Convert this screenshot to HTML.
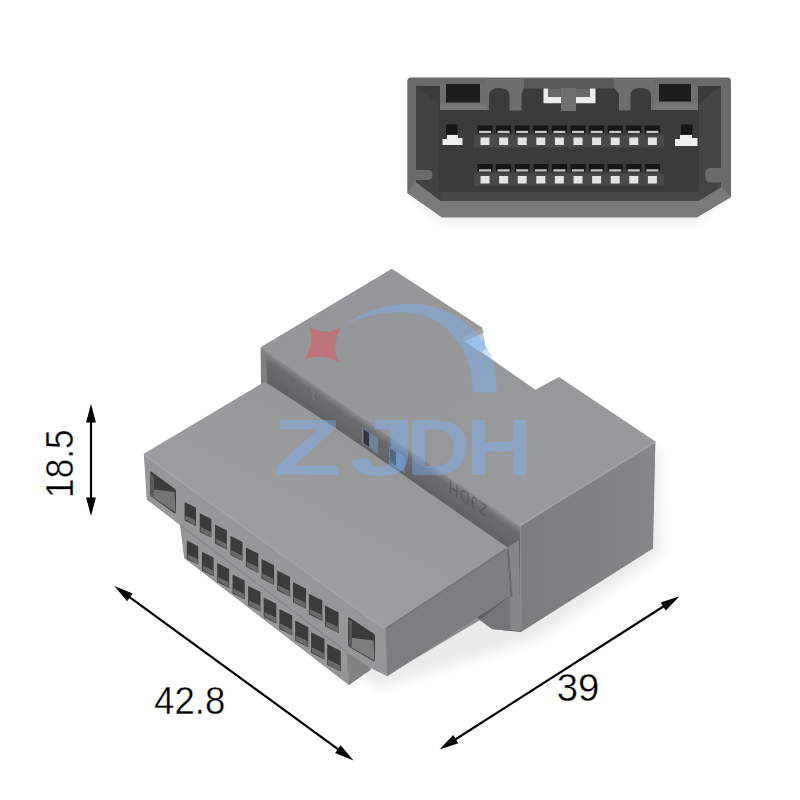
<!DOCTYPE html>
<html lang="en"><head><meta charset="utf-8"><title>ZJDH connector 42.8 x 39 x 18.5</title>
<style>
html,body{margin:0;padding:0;background:#fff;}
body{width:800px;height:800px;overflow:hidden;font-family:"Liberation Sans",sans-serif;}
svg{display:block}
text{font-family:"Liberation Sans",sans-serif;}
</style></head><body>
<svg width="800" height="800" viewBox="0 0 800 800">
<defs>
<filter id="b0" x="-5%" y="-5%" width="110%" height="110%"><feGaussianBlur stdDeviation="0.45"/></filter>
<filter id="b1" x="-20%" y="-20%" width="140%" height="140%"><feGaussianBlur stdDeviation="0.6"/></filter>
<filter id="b2" x="-50%" y="-50%" width="200%" height="200%"><feGaussianBlur stdDeviation="6"/></filter>
<filter id="b3" x="-20%" y="-20%" width="140%" height="140%"><feGaussianBlur stdDeviation="1.2"/></filter>
<linearGradient id="hole" x1="0" y1="0" x2="1" y2="1"><stop offset="0" stop-color="#2e2e2d"/><stop offset="0.55" stop-color="#4a4a49"/><stop offset="1" stop-color="#7c7c7c"/></linearGradient>
<linearGradient id="rface" x1="0" y1="0" x2="1" y2="0"><stop offset="0" stop-color="#7b7c7d"/><stop offset="1" stop-color="#858687"/></linearGradient>
<linearGradient id="platef" x1="0.85" y1="0.15" x2="0.3" y2="0.85"><stop offset="0" stop-color="#949597"/><stop offset="1" stop-color="#9e9fa1"/></linearGradient>
<linearGradient id="band" gradientUnits="userSpaceOnUse" x1="400" y1="442.5" x2="383" y2="467.2"><stop offset="0" stop-color="#999a9c"/><stop offset="0.07" stop-color="#858688"/><stop offset="0.27" stop-color="#6a6b6d"/><stop offset="1" stop-color="#5f6062"/></linearGradient>
<linearGradient id="topf" x1="0" y1="0" x2="1" y2="1"><stop offset="0" stop-color="#959698"/><stop offset="1" stop-color="#999a9c"/></linearGradient>
</defs>
<rect width="800" height="800" fill="#ffffff"/>

<g id="topview" filter="url(#b0)">
<path d="M410 190 L730 190 L698 222 L442 222 Z" fill="#ebebeb" filter="url(#b2)"/>
<path d="M411 77.5 H727 Q731 77.5 731 81.5 V197 L697 217.3 H442 L407.3 193 V81.5 Q407.3 77.5 411 77.5 Z" fill="#6b6b6b"/>
<path d="M441 201 H698 L721 187 L731 197 L697 217.3 H442 L407.3 193 L416 182 Z" fill="#7a7a7a"/>
<path d="M441 200.5 H698" stroke="#8c8c8c" stroke-width="1.5"/>
<path d="M416 86 H721 V187 L698 201 H441 L416 182 Z" fill="#3a3a3a"/>
<path d="M441 201 H698 L708 192 H430 Z" fill="#464646"/>
<path d="M416 86 L438 104 V178 L441 201 L416 182 Z" fill="#424242"/>
<path d="M721 86 L699 104 V180 L698 201 L721 187 Z" fill="#454545"/>
<rect x="523.5" y="79" width="90.5" height="9.5" fill="#5a5a5a"/>
<path d="M440 84 H486 V110 H440 Z" fill="#6e6e6e"/>
<rect x="440" y="103.5" width="46" height="6.5" fill="#767676"/>
<rect x="446" y="84" width="34" height="18.5" fill="#1b1b1b"/>
<path d="M654 84 H698 V110 H654 Z" fill="#6e6e6e"/>
<rect x="654" y="103" width="44" height="7" fill="#767676"/>
<rect x="659" y="84" width="32" height="17.5" fill="#1b1b1b"/>
<path d="M486 79 H524 V88 L521.5 94 V110.5 H509.5 V96 Q509.5 88 499 88 Q489 88 489 96 V110 H486 Z" fill="#6e6e6e"/>
<path d="M654 79 H614 V88 L619 94 V110.5 H630.5 V96 Q630.5 88 640 88 Q651 88 651 96 V110 H654 Z" fill="#6e6e6e"/>
<path d="M543.5 88.5 H548 V97 H561 V103.3 H543.5 Z" fill="#ececec"/>
<path d="M595.5 88.5 H590 V97 H576 V103.3 H595.5 Z" fill="#ececec"/>
<rect x="548" y="88.5" width="13" height="8.5" fill="#676767"/>
<rect x="576" y="88.5" width="14" height="8.5" fill="#676767"/>
<rect x="561" y="88" width="15" height="23" fill="#707070"/>
<rect x="474" y="135" width="190" height="12.5" fill="#4a4a4a"/>
<rect x="477.5" y="125.5" width="15" height="7.5" fill="#161616"/>
<rect x="479.0" y="130.8" width="12" height="2.2" fill="#c4c4c4"/>
<rect x="480.5" y="137.5" width="9" height="7.5" fill="#e4e4e4"/>
<rect x="496.1" y="125.5" width="15" height="7.5" fill="#161616"/>
<rect x="497.6" y="130.8" width="12" height="2.2" fill="#c4c4c4"/>
<rect x="499.1" y="137.5" width="9" height="7.5" fill="#e4e4e4"/>
<rect x="514.7" y="125.5" width="15" height="7.5" fill="#161616"/>
<rect x="516.2" y="130.8" width="12" height="2.2" fill="#c4c4c4"/>
<rect x="517.7" y="137.5" width="9" height="7.5" fill="#e4e4e4"/>
<rect x="533.3" y="125.5" width="15" height="7.5" fill="#161616"/>
<rect x="534.8" y="130.8" width="12" height="2.2" fill="#c4c4c4"/>
<rect x="536.3" y="137.5" width="9" height="7.5" fill="#e4e4e4"/>
<rect x="551.9" y="125.5" width="15" height="7.5" fill="#161616"/>
<rect x="553.4" y="130.8" width="12" height="2.2" fill="#c4c4c4"/>
<rect x="554.9" y="137.5" width="9" height="7.5" fill="#e4e4e4"/>
<rect x="570.5" y="125.5" width="15" height="7.5" fill="#161616"/>
<rect x="572.0" y="130.8" width="12" height="2.2" fill="#c4c4c4"/>
<rect x="573.5" y="137.5" width="9" height="7.5" fill="#e4e4e4"/>
<rect x="589.1" y="125.5" width="15" height="7.5" fill="#161616"/>
<rect x="590.6" y="130.8" width="12" height="2.2" fill="#c4c4c4"/>
<rect x="592.1" y="137.5" width="9" height="7.5" fill="#e4e4e4"/>
<rect x="607.7" y="125.5" width="15" height="7.5" fill="#161616"/>
<rect x="609.2" y="130.8" width="12" height="2.2" fill="#c4c4c4"/>
<rect x="610.7" y="137.5" width="9" height="7.5" fill="#e4e4e4"/>
<rect x="626.3" y="125.5" width="15" height="7.5" fill="#161616"/>
<rect x="627.8" y="130.8" width="12" height="2.2" fill="#c4c4c4"/>
<rect x="629.3" y="137.5" width="9" height="7.5" fill="#e4e4e4"/>
<rect x="644.9" y="125.5" width="15" height="7.5" fill="#161616"/>
<rect x="646.4" y="130.8" width="12" height="2.2" fill="#c4c4c4"/>
<rect x="647.9" y="137.5" width="9" height="7.5" fill="#e4e4e4"/>
<rect x="474" y="173.5" width="190" height="12.5" fill="#4a4a4a"/>
<rect x="477.5" y="164.0" width="15" height="7.5" fill="#161616"/>
<rect x="479.0" y="169.3" width="12" height="2.2" fill="#c4c4c4"/>
<rect x="480.5" y="176.0" width="9" height="7.5" fill="#e4e4e4"/>
<rect x="496.1" y="164.0" width="15" height="7.5" fill="#161616"/>
<rect x="497.6" y="169.3" width="12" height="2.2" fill="#c4c4c4"/>
<rect x="499.1" y="176.0" width="9" height="7.5" fill="#e4e4e4"/>
<rect x="514.7" y="164.0" width="15" height="7.5" fill="#161616"/>
<rect x="516.2" y="169.3" width="12" height="2.2" fill="#c4c4c4"/>
<rect x="517.7" y="176.0" width="9" height="7.5" fill="#e4e4e4"/>
<rect x="533.3" y="164.0" width="15" height="7.5" fill="#161616"/>
<rect x="534.8" y="169.3" width="12" height="2.2" fill="#c4c4c4"/>
<rect x="536.3" y="176.0" width="9" height="7.5" fill="#e4e4e4"/>
<rect x="551.9" y="164.0" width="15" height="7.5" fill="#161616"/>
<rect x="553.4" y="169.3" width="12" height="2.2" fill="#c4c4c4"/>
<rect x="554.9" y="176.0" width="9" height="7.5" fill="#e4e4e4"/>
<rect x="570.5" y="164.0" width="15" height="7.5" fill="#161616"/>
<rect x="572.0" y="169.3" width="12" height="2.2" fill="#c4c4c4"/>
<rect x="573.5" y="176.0" width="9" height="7.5" fill="#e4e4e4"/>
<rect x="589.1" y="164.0" width="15" height="7.5" fill="#161616"/>
<rect x="590.6" y="169.3" width="12" height="2.2" fill="#c4c4c4"/>
<rect x="592.1" y="176.0" width="9" height="7.5" fill="#e4e4e4"/>
<rect x="607.7" y="164.0" width="15" height="7.5" fill="#161616"/>
<rect x="609.2" y="169.3" width="12" height="2.2" fill="#c4c4c4"/>
<rect x="610.7" y="176.0" width="9" height="7.5" fill="#e4e4e4"/>
<rect x="626.3" y="164.0" width="15" height="7.5" fill="#161616"/>
<rect x="627.8" y="169.3" width="12" height="2.2" fill="#c4c4c4"/>
<rect x="629.3" y="176.0" width="9" height="7.5" fill="#e4e4e4"/>
<rect x="644.9" y="164.0" width="15" height="7.5" fill="#161616"/>
<rect x="646.4" y="169.3" width="12" height="2.2" fill="#c4c4c4"/>
<rect x="647.9" y="176.0" width="9" height="7.5" fill="#e4e4e4"/>
<rect x="446" y="124.5" width="11.5" height="10" fill="#151515"/>
<path d="M447 135 H458 V138 H462.5 V145 H442.5 V139 H447 Z" fill="#efefef"/>
<rect x="681" y="124.5" width="11.5" height="10" fill="#151515"/>
<path d="M680 135 H692 V138 H697.5 V146 H675 V139 H680 Z" fill="#efefef"/>
<path d="M415 170 H428 Q432.5 170 432.5 175 Q432.5 180 428 180 H415 Z" fill="#6a6a6a"/>
<path d="M722 168 H710 Q705 168 705 175 Q705 182.5 710 182.5 H722 Z" fill="#6a6a6a"/>
</g>
<g id="main" filter="url(#b0)">
<path d="M300 640 L380 688 L540 638 L662 554 L660 452 L600 420 Z" fill="#ebebeb" filter="url(#b2)"/>
<polygon points="261.0,348.0 391.8,269.5 482.0,328.5 481.0,352.0 535.4,390.5 559.0,378.0 655.0,442.0 652.5,548.0 521.0,631.5 492.0,628.5 480.0,620.0 387.0,675.5 370.5,667.5 370.0,670.0 348.8,684.5 184.5,558.0 180.5,525.0 147.0,499.5 144.3,454.3 261.0,385.0" fill="#8c8d8f" />
<polygon points="518.0,523.0 655.4,441.6 653.0,548.5 521.0,632.0 518.0,632.0" fill="url(#rface)" />
<polygon points="261.0,347.6 266.0,347.5 521.0,522.0 521.0,632.0 492.0,629.0 480.0,620.0 262.0,420.0" fill="url(#band)" />
<polygon points="261.0,347.0 391.8,268.8 482.0,327.6 483.0,332.0 462.0,340.0 481.0,352.0 535.4,389.8 559.0,377.0 655.4,441.6 520.0,525.0" fill="url(#topf)" />
<path d="M520 525.5 L655 442" stroke="#a3a4a6" stroke-width="1.6" fill="none" filter="url(#b1)"/>
<path d="M520.3 527 L521 630" stroke="#8e8f91" stroke-width="1.5" fill="none" filter="url(#b1)"/>
<polygon points="260.6,347.5 266.0,351.0 267.0,384.0 261.0,384.5" fill="#7e7f81" />
<polygon points="464.0,341.0 483.0,333.0 486.0,348.5 481.0,352.5" fill="#b3c6de" />
<polygon points="461.5,337.5 481.5,328.0 483.8,332.8 463.0,341.8" fill="#a2a3a5" />
<polygon points="362.0,427.0 378.0,438.0 378.0,454.0 362.0,443.0" fill="#6f819e" />
<polygon points="363.5,429.0 369.0,433.0 369.0,447.0 363.5,443.0" fill="#353638" />
<polygon points="389.0,446.0 405.0,457.0 405.0,473.0 389.0,462.0" fill="#6f819e" />
<polygon points="390.5,448.0 396.0,452.0 396.0,466.0 390.5,462.0" fill="#353638" />
<text transform="matrix(-0.824 -0.566 0 -1 487 506)" font-size="17" fill="#505153" fill-opacity="0.7" letter-spacing="1">ZJDH</text>
<text transform="matrix(-0.824 -0.566 0 -1 316 393.5)" font-size="12" fill="#8a8b8d" fill-opacity="0.7">1</text>
<polygon points="143.8,453.8 261.0,384.0 265.0,382.0 280.0,391.5 340.0,431.0 509.5,548.8 385.5,628.8" fill="url(#platef)" />
<polygon points="385.5,628.8 506.0,548.5 510.0,596.0 387.0,676.5" fill="#7d7e7f" />
<polygon points="506.0,548.5 519.0,540.0 520.5,632.0 510.0,630.0 510.0,596.0" fill="#858688" />
<path d="M508 549 L511.5 597" stroke="#68696b" stroke-width="2" fill="none"/>
<polygon points="480.0,620.0 510.0,596.0 510.0,631.0 492.0,629.0" fill="#757678" />
<polygon points="143.8,453.8 385.5,628.8 387.0,676.0 370.5,668.0 348.8,685.0 184.2,558.2 180.0,525.0 146.8,499.5" fill="#97979a" />
<polygon points="346.5,652.0 370.5,668.0 370.5,670.0 348.8,685.0" fill="#828283" />
<path d="M180 525 L347 652" stroke="#87878a" stroke-width="1.2" fill="none"/>
<path d="M144.5 455 L385.5 629.6" stroke="#a5a5a7" stroke-width="1.6" fill="none"/>
<path d="M385.5 628.8 L506 549" stroke="#727374" stroke-width="1.4" fill="none"/>
<path d="M151.7 471.8 L174.5 488.5 Q176 489.8 176 492 L176 511.5 Q176 514.5 174 513 L151.2 496.6 Q150.2 495.8 150.2 494.5 L150.2 472.5 Q150.2 470.8 151.7 471.8 Z" fill="#3c3c3c"/>
<polygon points="151.0,489.0 174.5,492.0 175.5,512.5 151.0,495.8" fill="#757576" />
<polygon points="150.6,473.0 154.0,476.0 154.0,497.0 150.6,494.8" fill="#5a5a5a" />
<path d="M349.5 617.6 L373.5 633.5 Q375 634.8 375 637 L375 659.5 Q375 662.5 373 661 L349 646.8 Q348 646 348 644.5 L348 618.5 Q348 616.6 349.5 617.6 Z" fill="#3a3a3a"/>
<polygon points="349.0,637.5 373.5,640.5 374.5,660.8 349.0,646.0" fill="#7d7d7e" />
<polygon points="348.5,619.0 352.0,621.5 352.0,647.0 348.5,645.5" fill="#585858" />
<polygon points="184.6,502.0 196.0,507.7 196.0,526.1 184.6,520.4" fill="#3b3b3b" />
<polygon points="185.4,515.6 195.5,520.6 195.5,525.5 185.4,519.8" fill="#6a6a6b" />
<polygon points="199.8,513.2 211.4,519.1 211.4,537.7 199.8,531.9" fill="#3b3b3b" />
<polygon points="200.6,527.0 210.9,532.1 210.9,537.1 200.6,531.3" fill="#6a6a6b" />
<polygon points="215.0,524.5 226.9,530.5 226.9,549.4 215.0,543.4" fill="#3b3b3b" />
<polygon points="215.8,538.5 226.4,543.7 226.4,548.8 215.8,542.8" fill="#6a6a6b" />
<polygon points="230.4,535.9 242.5,542.0 242.5,561.1 230.4,555.1" fill="#3b3b3b" />
<polygon points="231.2,550.1 242.0,555.4 242.0,560.5 231.2,554.5" fill="#6a6a6b" />
<polygon points="245.9,547.4 258.3,553.6 258.3,573.0 245.9,566.8" fill="#3b3b3b" />
<polygon points="246.7,561.7 257.8,567.1 257.8,572.4 246.7,566.2" fill="#6a6a6b" />
<polygon points="261.5,558.9 274.1,565.2 274.1,584.9 261.5,578.5" fill="#3b3b3b" />
<polygon points="262.3,573.4 273.6,579.0 273.6,584.2 262.3,577.9" fill="#6a6a6b" />
<polygon points="277.2,570.5 290.1,576.9 290.1,596.8 277.2,590.4" fill="#3b3b3b" />
<polygon points="278.0,585.2 289.6,590.8 289.6,596.2 278.0,589.8" fill="#6a6a6b" />
<polygon points="293.0,582.1 306.1,588.7 306.1,608.8 293.0,602.3" fill="#3b3b3b" />
<polygon points="293.8,597.0 305.6,602.8 305.6,608.2 293.8,601.7" fill="#6a6a6b" />
<polygon points="308.9,593.8 322.3,600.5 322.3,620.9 308.9,614.2" fill="#3b3b3b" />
<polygon points="309.7,608.9 321.8,614.8 321.8,620.3 309.7,613.6" fill="#6a6a6b" />
<polygon points="325.0,605.6 338.6,612.5 338.6,633.1 325.0,626.3" fill="#3b3b3b" />
<polygon points="325.8,620.9 338.1,626.9 338.1,632.5 325.8,625.7" fill="#6a6a6b" />
<polygon points="186.8,540.5 198.2,546.2 198.2,564.6 186.8,558.9" fill="#3b3b3b" />
<polygon points="187.6,554.1 197.7,559.1 197.7,564.0 187.6,558.3" fill="#6a6a6b" />
<polygon points="202.0,551.7 213.6,557.6 213.6,576.2 202.0,570.4" fill="#3b3b3b" />
<polygon points="202.8,565.5 213.1,570.6 213.1,575.6 202.8,569.8" fill="#6a6a6b" />
<polygon points="217.2,563.0 229.1,569.0 229.1,587.9 217.2,581.9" fill="#3b3b3b" />
<polygon points="218.0,577.0 228.6,582.2 228.6,587.3 218.0,581.3" fill="#6a6a6b" />
<polygon points="232.6,574.4 244.7,580.5 244.7,599.6 232.6,593.6" fill="#3b3b3b" />
<polygon points="233.4,588.6 244.2,593.9 244.2,599.0 233.4,593.0" fill="#6a6a6b" />
<polygon points="248.1,585.9 260.5,592.1 260.5,611.5 248.1,605.3" fill="#3b3b3b" />
<polygon points="248.9,600.2 260.0,605.6 260.0,610.9 248.9,604.7" fill="#6a6a6b" />
<polygon points="263.7,597.4 276.3,603.7 276.3,623.4 263.7,617.0" fill="#3b3b3b" />
<polygon points="264.5,611.9 275.8,617.5 275.8,622.8 264.5,616.4" fill="#6a6a6b" />
<polygon points="279.4,609.0 292.3,615.4 292.3,635.3 279.4,628.9" fill="#3b3b3b" />
<polygon points="280.2,623.7 291.8,629.3 291.8,634.7 280.2,628.3" fill="#6a6a6b" />
<polygon points="295.2,620.6 308.3,627.2 308.3,647.3 295.2,640.8" fill="#3b3b3b" />
<polygon points="296.0,635.5 307.8,641.3 307.8,646.7 296.0,640.2" fill="#6a6a6b" />
<polygon points="311.1,632.3 324.5,639.0 324.5,659.4 311.1,652.7" fill="#3b3b3b" />
<polygon points="311.9,647.4 324.0,653.3 324.0,658.8 311.9,652.1" fill="#6a6a6b" />
<polygon points="327.2,644.1 340.8,651.0 340.8,671.6 327.2,664.8" fill="#3b3b3b" />
<polygon points="328.0,659.4 340.3,665.4 340.3,671.0 328.0,664.2" fill="#6a6a6b" />
</g>
<g id="wm">
<path d="M345 325 C365 309 395 302 418 304 C452 307 481 330 492 358 C496 370 497.5 382 496.5 392.5 L472.5 392.5 C473 375 468 358 459 343 C451 331 441 322 430 317.5 C410 309.5 375 310 345 325 Z" fill="#78b4ff" fill-opacity="0.4"/>
<path d="M309 326.5 Q323 336 340.5 328 Q331 345 339 362.5 Q322 352 304.5 359.5 Q315 343 309 326.5 Z" fill="#ea4a55" fill-opacity="0.45"/>
<text y="474.6" font-size="80.5" font-weight="700" fill="#78b4ff" fill-opacity="0.4"><tspan x="272.8" textLength="68.7" lengthAdjust="spacingAndGlyphs">Z</tspan><tspan x="349.4" textLength="66.5" lengthAdjust="spacingAndGlyphs">J</tspan><tspan x="406.3" textLength="64.2" lengthAdjust="spacingAndGlyphs">D</tspan><tspan x="465.8" textLength="66.7" lengthAdjust="spacingAndGlyphs">H</tspan></text>
</g>
<g id="dims" fill="#000" stroke="none">
<line x1="91.0" y1="418.8" x2="91.0" y2="501.2" stroke="#000" stroke-width="2.2"/>
<polygon points="91.0,403.8 86.1,422.6 95.9,422.6"/>
<polygon points="91.0,516.2 86.1,497.4 95.9,497.4"/>
<line x1="126.8" y1="595.1" x2="341.0" y2="751.4" stroke="#000" stroke-width="2.2"/>
<polygon points="114.3,586.0 127.1,601.3 132.7,593.5"/>
<polygon points="353.5,760.5 335.1,753.0 340.7,745.2"/>
<line x1="452.5" y1="741.2" x2="666.5" y2="604.5" stroke="#000" stroke-width="2.2"/>
<polygon points="439.5,749.5 458.3,743.2 453.2,735.1"/>
<polygon points="679.5,596.2 665.8,610.6 660.7,602.5"/>
<text transform="translate(72.8 497.9) rotate(-90) scale(0.896 1)" font-size="39.3" stroke="#ffffff" stroke-width="0.4">18.5</text>
<text transform="translate(154.1 713.7) scale(0.932 1)" font-size="39.3" stroke="#ffffff" stroke-width="0.4">42.8</text>
<text transform="translate(556.8 700.7) scale(0.975 1)" font-size="39.3" stroke="#ffffff" stroke-width="0.4">39</text>
</g>
</svg></body></html>
